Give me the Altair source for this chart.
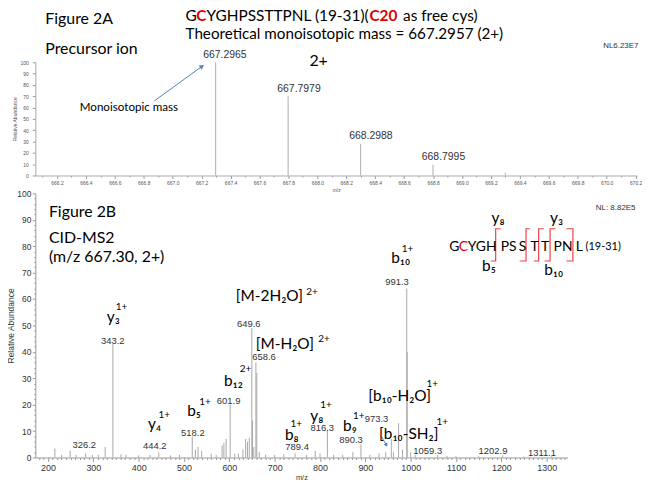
import altair as alt
import pandas as pd

# ---------------- Figure 2A: precursor ion isotope cluster ----------------
prec_mz = [667.2965, 667.7979, 668.2988, 668.7995, 669.3002]
prec_ab = [100.0, 70.0, 28.0, 9.5, 2.5]

# ---------------- Figure 2B: CID-MS2 peaks (m/z, relative abundance) -------
ms2_peaks = [
    (215.1, 3.4), (230.0, 1.0), (249.0, 2.6), (262.0, 1.0), (283.0, 1.5),
    (298.0, 1.0), (311.0, 1.0), (326.2, 4.0), (343.2, 43.0), (361.0, 1.2),
    (372.0, 1.0), (400.0, 0.8), (425.0, 1.0), (444.2, 2.0), (470.0, 0.8),
    (490.0, 1.0), (518.2, 8.0), (525.0, 3.0), (531.0, 4.0), (539.0, 2.5),
    (560.0, 1.5), (571.0, 1.0), (584.0, 4.5), (588.0, 5.5), (593.0, 7.0),
    (601.9, 20.0), (612.0, 1.5), (620.0, 1.5), (630.0, 3.0), (636.0, 7.0),
    (640.0, 6.0), (644.0, 7.5), (649.6, 49.0), (651.1, 14.0), (654.0, 4.0),
    (658.6, 36.0), (660.6, 32.0), (666.0, 2.0), (680.0, 1.0), (700.0, 1.0),
    (720.0, 1.2), (745.0, 1.5), (770.0, 1.0), (789.4, 2.5), (800.0, 1.5),
    (816.3, 10.5), (830.0, 1.0), (850.0, 1.0), (872.5, 2.0), (890.3, 5.0),
    (910.0, 1.0), (930.0, 1.5), (945.0, 2.0), (957.3, 7.0), (962.0, 2.0),
    (973.3, 13.0), (982.0, 3.0), (991.3, 64.0), (992.3, 40.0), (1000.0, 2.0),
    (1010.0, 1.0), (1059.3, 1.0), (1080.0, 0.6), (1100.0, 0.5), (1150.0, 0.5),
    (1202.9, 0.8), (1250.0, 0.4), (1311.1, 0.6),
]

# ---------------- annotations: Figure 2A (m/z, abundance, text) ------------
top_title_black = [(667.0887, 140.5, "G"), (667.2335, 140.5, "YGHPSSTTPNL (19-31)("),
                   (668.592, 140.5, "as free cys)")]
top_title_red = [(667.1635, 140.5, "C"), (668.360, 140.5, "C20")]
top_subtitle = [(667.0887, 125.0, "Theoretical monoisotopic mass = 667.2957 (2+)")]
top_fig_text = [(666.119, 138.6, "Figure 2A"), (666.119, 111.8, "Precursor ion"),
                (667.945, 100.9, "2+")]
top_mono_text = [(666.357, 60.5, "Monoisotopic mass")]
top_nl = [(670.22, 114.0, "NL6.23E7")]
top_peak_labels = [(667.361, 106.8, "667.2965"), (667.873, 76.1, "667.7979"),
                   (668.370, 34.5, "668.2988"), (668.872, 16.1, "668.7995")]
top_arrow = [(666.872, 65.8), (667.203, 96.5)]

# ---------------- annotations: Figure 2B ----------------------------------
bot_fig_text = [(202, 92.9, "Figure 2B"), (202, 83.2, "CID-MS2"),
                (202, 75.9, "(m/z 667.30, 2+)")]
bot_nl = [(1496.0, 94.4, "NL: 8.82E5")]
bot_peak_labels = [
    (280.0, 4.7, "326.2"), (342.8, 44.1, "343.2"), (435.5, 4.4, "444.2"),
    (519.6, 9.1, "518.2"), (598.4, 21.3, "601.9"), (642.9, 50.7, "649.6"),
    (676.4, 38.2, "658.6"), (749.5, 3.8, "789.4"), (804.9, 11.3, "816.3"),
    (868.4, 6.7, "890.3"), (924.7, 14.4, "973.3"), (969.8, 66.6, "991.3"),
    (1037.7, 2.6, "1059.3"), (1181.6, 2.6, "1202.9"), (1289.6, 1.7, "1311.1"),
]
ion_main = [
    (614.4, 61.3, "[M-2H₂O]"), (329.7, 53.1, "y₃"), (658.2, 42.9, "[M-H₂O]"),
    (588.1, 28.8, "b₁₂"), (420.6, 12.6, "y₄"), (507.1, 17.6, "b₅"),
    (778.6, 15.6, "y₈"), (722.8, 8.4, "b₈"), (906.3, 23.2, "[b₁₀-H₂O]"),
    (850.9, 11.9, "b₉"), (930.4, 8.8, "[b₁₀-SH₂]"), (957.1, 75.5, "b₁₀"),
    (1178.3, 90.5, "y₈"), (1307.5, 90.6, "y₃"), (1157.5, 72.3, "b₅"),
    (1294.4, 71.0, "b₁₀"),
]
ion_sup = [
    (769.9, 62.8, "2+"), (349.4, 56.9, "1+"), (796.2, 44.8, "2+"), (623.1, 33.5, "2+"),
    (443.6, 15.9, "1+"), (533.4, 20.9, "1+"), (800.5, 19.9, "1+"), (734.8, 12.6, "1+"),
    (1034.9, 27.8, "1+"), (872.8, 15.7, "1+"), (1056.8, 13.6, "1+"), (980.1, 78.8, "1+"),
]
seq_black = [(1085.2, 79.8, "G"), (1125.7, 79.8, "YGH"), (1198.5, 79.8, "PS"),
             (1238.5, 79.8, "S"), (1264.2, 79.8, "T"), (1287.4, 79.8, "T"),
             (1315.2, 79.8, "PN"), (1364.0, 79.8, "L")]
seq_red = [(1106.0, 79.8, "C")]
seq_range = [(1385.9, 79.8, "(19-31)")]
brackets = [
    ("a", [(1198.5, 86.6), (1187.5, 86.6), (1187.5, 74.4), (1176.6, 74.4)]),
    ("b", [(1262.6, 86.6), (1254.5, 86.6), (1254.5, 74.4), (1240.5, 74.4)]),
    ("c", [(1293.3, 86.6), (1282.3, 86.6), (1282.3, 74.4), (1271.4, 74.4)]),
    ("d", [(1319.6, 86.6), (1307.5, 86.6), (1307.5, 74.4), (1295.5, 74.4)]),
    ("e", [(1343.7, 86.6), (1357.9, 86.6), (1357.9, 74.4), (1343.7, 74.4)]),
]
bot_arrow = [(935.6, 7.95), (946.4, 4.7)]

# ---------------- scales & axes -------------------------------------------
XS_T = alt.Scale(domain=[666.05, 670.21], nice=False, zero=False)
YS_T = alt.Scale(domain=[0, 100], nice=False, zero=False)
XS_B = alt.Scale(domain=[172, 1346], nice=False, zero=False)
YS_B = alt.Scale(domain=[0, 100], nice=False, zero=False)

LATO = "Lato"
ARIAL = "Liberation Sans"

top_ticks = [round(666.1 + 0.1 * i, 1) for i in range(42)]
AX_T = alt.Axis(
    values=top_ticks,
    labelExpr="round(datum.value*10) % 2 == 0 ? format(datum.value, '.1f') : ''",
    tickSize={"condition": {"test": "round(datum.value*10) % 2 == 0", "value": 3}, "value": 1.5},
    labelFontSize=5, labelColor="#555", tickColor="#999", domainColor="#aaa",
    labelPadding=2, labelFlush=False, labelOverlap=False,
    title="m/z", titleFontSize=5, titlePadding=2, titleColor="#555",
)
AY_T = alt.Axis(
    values=list(range(0, 101, 10)), format="d", labelFontSize=5, labelColor="#555",
    tickColor="#999", domainColor="#aaa", tickSize=3, labelPadding=4, labelOverlap=False,
    title="Relative Abundance", titleFontSize=5, titlePadding=3, titleColor="#555",
)
AX_B = alt.Axis(
    values=list(range(180, 1341, 10)),
    labelExpr="datum.value % 100 == 0 ? format(datum.value, 'd') : ''",
    tickSize={"condition": {"test": "datum.value % 100 == 0", "value": 4}, "value": 2},
    labelFontSize=9, labelColor="#333", tickColor="#999", domainColor="#999",
    labelPadding=2, labelFlush=False, labelOverlap=False,
    title="m/z", titleFontSize=7.5, titlePadding=1, titleColor="#333",
)
AY_B = alt.Axis(
    values=list(range(0, 101, 2)),
    labelExpr="datum.value % 10 == 0 ? format(datum.value, 'd') : ''",
    tickSize={"condition": {"test": "datum.value % 10 == 0", "value": 3}, "value": 1.5},
    labelFontSize=8.5, labelColor="#333", tickColor="#999", domainColor="#999",
    labelPadding=1.5, labelOverlap=False,
    title="Relative Abundance", titleFontSize=8.5, titlePadding=1, titleColor="#333",
)
TOP = (XS_T, YS_T, AX_T, AY_T)
BOT = (XS_B, YS_B, AX_B, AY_B)


def enc(panel):
    xs, ys, ax, ay = panel
    return dict(x=alt.X("x:Q", scale=xs, axis=ax), y=alt.Y("y:Q", scale=ys, axis=ay))


def text_layer(rows, panel, **mk):
    df = pd.DataFrame(rows, columns=["x", "y", "t"])
    return alt.Chart(df).mark_text(**mk).encode(text="t:N", **enc(panel))


def arrow_layers(pts, panel, angle, size):
    df = pd.DataFrame(pts, columns=["x", "y"])
    line = alt.Chart(df).mark_line(color="#4f81bd", strokeWidth=1).encode(**enc(panel))
    head = alt.Chart(df.tail(1)).mark_point(
        shape="triangle-up", angle=angle, size=size, filled=True, opacity=1, color="#4f81bd"
    ).encode(**enc(panel))
    return [line, head]


# ---------------- Figure 2A panel ------------------------------------------
prec_df = pd.DataFrame({"x": prec_mz, "y": prec_ab})
top_peaks = alt.Chart(prec_df).mark_rule(color="#bbbbbb", strokeWidth=1.2).encode(
    y2=alt.datum(0), **enc(TOP))

top = alt.layer(
    top_peaks,
    *arrow_layers(top_arrow, TOP, 54, 28),
    text_layer(top_title_black, TOP, font=LATO, fontSize=15.5, align="left", baseline="middle", color="black"),
    text_layer(top_title_red, TOP, font=LATO, fontSize=15.5, fontWeight="bold", align="left", baseline="middle", color="#e00000"),
    text_layer(top_subtitle, TOP, font=LATO, fontSize=15.3, align="left", baseline="middle", color="black"),
    text_layer(top_fig_text, TOP, font=LATO, fontSize=16, align="left", baseline="middle", color="black"),
    text_layer(top_mono_text, TOP, font=LATO, fontSize=11.7, align="left", baseline="middle", color="black"),
    text_layer(top_nl, TOP, font=ARIAL, fontSize=8, align="right", baseline="middle", color="#333"),
    text_layer(top_peak_labels, TOP, font=ARIAL, fontSize=10.5, align="center", baseline="middle", color="#333"),
).properties(width=606, height=114)

# ---------------- Figure 2B panel ------------------------------------------
ms2_df = pd.DataFrame(ms2_peaks, columns=["x", "y"])
bot_peaks = alt.Chart(ms2_df).mark_rule(color="#a8a8a8", strokeWidth=1).encode(
    y2=alt.datum(0), **enc(BOT))

br_rows = []
for gid, pts in brackets:
    for k, (bx, by) in enumerate(pts):
        br_rows.append({"g": gid, "k": k, "x": bx, "y": by})
br_df = pd.DataFrame(br_rows)
bracket_layer = alt.Chart(br_df).mark_line(color="#f0404a", strokeWidth=1.2).encode(
    detail="g:N", order="k:Q", **enc(BOT))

bottom = alt.layer(
    bot_peaks,
    bracket_layer,
    *arrow_layers(bot_arrow, BOT, 150, 18),
    text_layer(bot_fig_text, BOT, font=LATO, fontSize=16, align="left", baseline="middle", color="black"),
    text_layer(bot_nl, BOT, font=ARIAL, fontSize=8, align="right", baseline="middle", color="#333"),
    text_layer(bot_peak_labels, BOT, font=ARIAL, fontSize=9.5, align="center", baseline="middle", color="#333"),
    text_layer(ion_main, BOT, font=LATO, fontSize=15.5, align="left", baseline="middle", color="black"),
    text_layer(ion_sup, BOT, font=LATO, fontSize=10, align="left", baseline="middle", color="black"),
    text_layer(seq_black, BOT, font=LATO, fontSize=14, align="left", baseline="middle", color="black"),
    text_layer(seq_red, BOT, font=LATO, fontSize=14, align="left", baseline="middle", color="#e00000"),
    text_layer(seq_range, BOT, font=LATO, fontSize=11, align="left", baseline="middle", color="black"),
).properties(width=536, height=266)

chart = alt.vconcat(top, bottom, spacing=18, bounds="flush").properties(
    padding={"left": -1.5, "top": -1, "right": 0, "bottom": 0}
).configure_view(stroke=None).configure_axis(
    grid=False, labelFont=ARIAL, titleFont=ARIAL, titleFontWeight="normal"
)

chart.save("out.html", embed_options={"renderer": "svg", "actions": False})
